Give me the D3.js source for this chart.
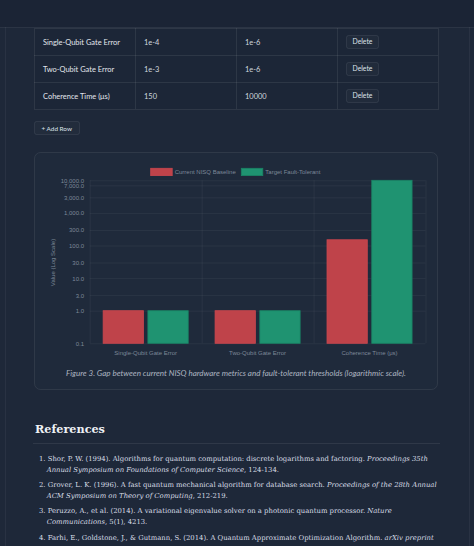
<!DOCTYPE html>
<html><head><meta charset="utf-8">
<script src="https://cdn.jsdelivr.net/npm/d3@7/dist/d3.min.js"></script>
<style>
html,body{margin:0;padding:0;background:#1e2839;overflow:hidden;width:474px;height:546px;}
svg{display:block;}
</style></head>
<body>
<svg id="page" width="474" height="546"></svg>
<script>
// ---------- data ----------
const tableMetrics = ["Single-Qubit Gate Error", "Two-Qubit Gate Error", "Coherence Time (μs)"];
const tableCurrent = ["1e-4", "1e-3", "150"];
const tableTarget = ["1e-6", "1e-6", "10000"];

const categories = ["Single-Qubit Gate Error", "Two-Qubit Gate Error", "Coherence Time (μs)"];
const seriesNames = ["Current NISQ Baseline", "Target Fault-Tolerant"];
const baselineValues = [1, 1, 150];
const targetValues = [1, 1, 10000];
const yTickValues = [0.1, 1, 3, 10, 30, 100, 300, 1000, 3000, 7000, 10000];

const caption = "Figure 3. Gap between current NISQ hardware metrics and fault-tolerant thresholds (logarithmic scale).";
const references = [
  [[["1. Shor, P. W. (1994). Algorithms for quantum computation: discrete logarithms and factoring. ", false], ["Proceedings 35th", true]],
   [["Annual Symposium on Foundations of Computer Science", true], [", 124-134.", false]]],
  [[["2. Grover, L. K. (1996). A fast quantum mechanical algorithm for database search. ", false], ["Proceedings of the 28th Annual", true]],
   [["ACM Symposium on Theory of Computing", true], [", 212-219.", false]]],
  [[["3. Peruzzo, A., et al. (2014). A variational eigenvalue solver on a photonic quantum processor. ", false], ["Nature", true]],
   [["Communications", true], [", 5(1), 4213.", false]]],
  [[["4. Farhi, E., Goldstone, J., & Gutmann, S. (2014). A Quantum Approximate Optimization Algorithm. ", false], ["arXiv preprint", true]],
   [["arXiv:1411.4028.", false]]]
];

// ---------- helpers ----------
const svg = d3.select("#page");
function fit(sel, w) {
  const cur = sel.node().getComputedTextLength();
  const fs = parseFloat(sel.attr("font-size"));
  if (cur > 0) sel.attr("font-size", fs * w / cur);
  return parseFloat(sel.attr("font-size"));
}
const uiFont = "Lato,'Noto Sans',sans-serif";
const chartFont = "'Liberation Sans',Arial,Helvetica,sans-serif";
const serifFont = "'DejaVu Serif',serif";

// ---------- page background ----------
svg.append("rect").attr("x", 0).attr("y", 0).attr("width", 474).attr("height", 546).attr("fill", "#1e2839");
svg.append("rect").attr("x", 0).attr("y", 0).attr("width", 474).attr("height", 27).attr("fill", "#1b2435");
svg.append("line").attr("x1", 0).attr("x2", 474).attr("y1", 27.5).attr("y2", 27.5).attr("stroke", "rgba(255,255,255,0.06)");
svg.append("line").attr("x1", 5.5).attr("x2", 5.5).attr("y1", 27).attr("y2", 546).attr("stroke", "rgba(255,255,255,0.05)");
svg.append("line").attr("x1", 469.5).attr("x2", 469.5).attr("y1", 27).attr("y2", 546).attr("stroke", "rgba(255,255,255,0.05)");

// ---------- table ----------
const colX = [34, 135, 236, 337, 438];
const rowY = [28, 55, 82, 109];
const tg = svg.append("g");
tg.append("rect").attr("x", colX[0] + 0.5).attr("y", rowY[0] + 0.5).attr("width", colX[4] - colX[0]).attr("height", rowY[3] - rowY[0])
  .attr("fill", "#1c2637").attr("stroke", "rgba(255,255,255,0.08)");
rowY.slice(1, 3).forEach(y => tg.append("line").attr("x1", colX[0]).attr("x2", colX[4]).attr("y1", y + 0.5).attr("y2", y + 0.5).attr("stroke", "rgba(255,255,255,0.08)"));
colX.slice(1, 4).forEach(x => tg.append("line").attr("x1", x + 0.5).attr("x2", x + 0.5).attr("y1", rowY[0]).attr("y2", rowY[3]).attr("stroke", "rgba(255,255,255,0.08)"));

const probe = tg.append("text").attr("font-family", uiFont).attr("font-size", 8).text(tableMetrics[0]);
const tableFs = fit(probe, 77);
probe.remove();

tableMetrics.forEach((m, i) => {
  const cy = (rowY[i] + rowY[i + 1]) / 2 + 0.5;
  [m, tableCurrent[i], tableTarget[i]].forEach((t, j) => {
    tg.append("text").attr("x", colX[j] + 9).attr("y", cy).attr("dy", "0.35em")
      .attr("font-family", uiFont).attr("font-size", tableFs).attr("fill", j === 0 ? "#e3e7ed" : "#d0d6de").text(t);
  });
  tg.append("rect").attr("x", 346.5).attr("y", cy - 6.5).attr("width", 32).attr("height", 13).attr("rx", 2)
    .attr("fill", "rgba(255,255,255,0.025)").attr("stroke", "rgba(255,255,255,0.08)");
  const dt = tg.append("text").attr("x", 362.5).attr("y", cy).attr("dy", "0.35em").attr("text-anchor", "middle")
    .attr("font-family", uiFont).attr("font-size", 7).attr("fill", "#dde3ea").text("Delete");
  fit(dt, 20);
});

// add row button
svg.append("rect").attr("x", 34.5).attr("y", 121.5).attr("width", 45).attr("height", 13).attr("rx", 2)
  .attr("fill", "rgba(255,255,255,0.02)").attr("stroke", "rgba(255,255,255,0.08)");
const ar = svg.append("text").attr("x", 41.5).attr("y", 128.3).attr("dy", "0.35em")
  .attr("font-family", uiFont).attr("font-size", 7).attr("fill", "#dde3ea").text("+ Add Row");
fit(ar, 30.5);

// ---------- chart card ----------
svg.append("rect").attr("x", 34.5).attr("y", 152.5).attr("width", 403).attr("height", 237).attr("rx", 6)
  .attr("fill", "#1f2a3b").attr("stroke", "rgba(255,255,255,0.08)");

const plot = {left: 89.7, right: 425.5, top: 180.3, bottom: 343.3};
const x0 = d3.scaleBand().domain(categories).range([plot.left, plot.right]).paddingInner(0).paddingOuter(0);
const y = d3.scaleLog().domain([0.1, 10000]).range([plot.bottom, plot.top]);
const colors = d3.scaleOrdinal().domain(seriesNames).range(["#bf434a", "#1f9371"]);
const strokeCols = d3.scaleOrdinal().domain(seriesNames).range(["#c9474f", "#1a8465"]);

const cg = svg.append("g");
// horizontal grid
cg.append("g").attr("transform", `translate(${plot.left},0)`)
  .call(d3.axisLeft(y).tickValues(yTickValues).tickSize(-(plot.right - plot.left)).tickFormat(""))
  .call(g => g.select(".domain").remove())
  .call(g => g.selectAll("line").attr("stroke", "rgba(255,255,255,0.05)"));
// vertical grid (category boundaries)
const bounds = categories.map(c => x0(c)).concat([plot.right]);
cg.append("g").selectAll("line").data(bounds).join("line")
  .attr("x1", d => d + 0.5).attr("x2", d => d + 0.5).attr("y1", plot.top).attr("y2", plot.bottom)
  .attr("stroke", "rgba(255,255,255,0.05)");

// y axis labels
cg.append("g").attr("transform", `translate(${plot.left},0)`)
  .call(d3.axisLeft(y).tickValues(yTickValues).tickSize(0).tickPadding(5.7).tickFormat(d3.format(",.1f")))
  .call(g => g.select(".domain").remove())
  .call(g => g.selectAll("text").attr("font-family", chartFont).attr("font-size", 6).attr("fill", "#7d8898"));

// x axis labels
cg.append("g").attr("transform", `translate(0,${plot.bottom})`)
  .call(d3.axisBottom(x0).tickSize(0).tickPadding(7))
  .call(g => g.select(".domain").remove())
  .call(g => g.selectAll("text").attr("font-family", chartFont).attr("font-size", 6).attr("fill", "#7d8898"));

// y title
cg.append("text").attr("transform", "translate(55,262.5) rotate(-90)").attr("text-anchor", "middle")
  .attr("font-family", chartFont).attr("font-size", 6).attr("fill", "#7d8898").text("Value (Log Scale)");

// bars
const seriesData = [baselineValues, targetValues];
const slot = x0.bandwidth() * 0.8 / 2;
const barW = slot * 0.9;
categories.forEach((c, i) => {
  const start = x0(c) + x0.bandwidth() * 0.1;
  seriesNames.forEach((s, k) => {
    const v = seriesData[k][i];
    const bx = start + k * slot + (slot - barW) / 2;
    cg.append("rect").attr("x", bx).attr("y", y(v)).attr("width", barW).attr("height", y(0.1) - y(v))
      .attr("fill", colors(s)).attr("stroke", strokeCols(s)).attr("stroke-width", 0.8);
  });
});

// legend
const lg = cg.append("g");
const legendX = [150.7, 241.3];
seriesNames.forEach((s, k) => {
  lg.append("rect").attr("x", legendX[k]).attr("y", 168.3).attr("width", 21.5).attr("height", 7.3)
    .attr("fill", colors(s)).attr("stroke", strokeCols(s)).attr("stroke-width", 0.8);
  lg.append("text").attr("x", legendX[k] + 24).attr("y", 172).attr("dy", "0.35em")
    .attr("font-family", chartFont).attr("font-size", 6).attr("fill", "#7d8898").text(s);
});

// caption
const cap = svg.append("text").attr("x", 236).attr("y", 372.7).attr("dy", "0.35em").attr("text-anchor", "middle")
  .attr("font-family", uiFont).attr("font-style", "italic").attr("font-size", 7).attr("fill", "#adb5c1").text(caption);
fit(cap, 340);

// ---------- references ----------
const h = svg.append("text").attr("x", 35).attr("y", 433.3).attr("font-family", serifFont).attr("font-weight", "bold")
  .attr("font-size", 16).attr("fill", "#eef1f5").text("References");
fit(h, 70);
svg.append("line").attr("x1", 33).attr("x2", 440).attr("y1", 443.5).attr("y2", 443.5).attr("stroke", "rgba(255,255,255,0.08)");

const refFsProbe = svg.append("text").attr("font-family", serifFont).attr("font-size", 9);
references[0][0].forEach(([t, it]) => refFsProbe.append("tspan").attr("font-style", it ? "italic" : "normal").text(t));
const refFs = fit(refFsProbe, 428.3 - 39);
refFsProbe.remove();

const itemY = [460.6, 486.6, 512.6, 539.6];
references.forEach((lines, i) => {
  lines.forEach((segs, li) => {
    const t = svg.append("text").attr("x", li === 0 ? 39 : 46.7).attr("y", itemY[i] + li * 11.3)
      .attr("font-family", serifFont).attr("font-size", refFs).attr("fill", "#d9dee6");
    segs.forEach(([s, it]) => t.append("tspan").attr("font-style", it ? "italic" : "normal").text(s));
  });
});
</script>
</body></html>
